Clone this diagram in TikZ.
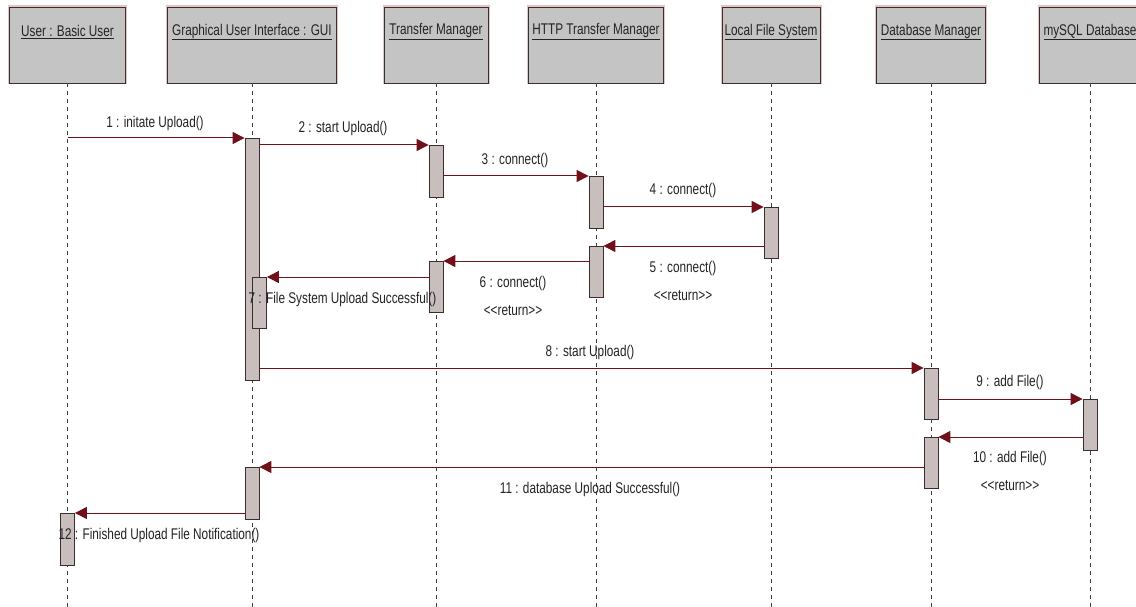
\documentclass[tikz,border=0pt]{standalone}
\usepackage{fontspec}
\setmainfont{Liberation Sans}[Ligatures=NoCommon]
\usetikzlibrary{arrows.meta}
\definecolor{msgc}{RGB}{112,16,24}
\definecolor{boxfill}{RGB}{196,196,196}
\definecolor{boxline}{RGB}{60,45,45}
\definecolor{halo}{RGB}{228,196,196}
\definecolor{actfill}{RGB}{200,190,190}
\definecolor{txt}{RGB}{35,35,35}
\newcommand{\nt}[1]{\scalebox{0.76}[1]{#1}}
\begin{document}
\begin{tikzpicture}[x=1pt,y=-1pt,
  head/.style={draw=boxline, line width=0.9pt, fill=boxfill, preaction={draw=halo,line width=3pt}, minimum height=76pt, inner sep=0pt},
  title/.style={text=txt, font=\fontsize{15.5}{18}\selectfont, inner sep=0pt},
  life/.style={draw=black!75, line width=0.8pt, dash pattern=on 4pt off 4pt},
  act/.style={draw=boxline, line width=0.8pt, fill=actfill, minimum width=14pt, inner sep=0pt, anchor=north},
  msg/.style={draw=msgc, line width=1pt, -{Triangle[length=12pt,width=12pt]}},
  lbl/.style={text=txt, font=\fontsize{15.5}{18}\selectfont, inner sep=0pt}]
\useasboundingbox (0,0) rectangle (1136,607);
\fill[white] (0,0) rectangle (1136,607);

% headers
\node[head, minimum width=116pt] (h1) at (67.5,45) {};
\node[head, minimum width=169pt] (h2) at (252,45) {};
\node[head, minimum width=104pt] (h3) at (436,45) {};
\node[head, minimum width=135pt] (h4) at (596,45) {};
\node[head, minimum width=98pt]  (h5) at (771,45) {};
\node[head, minimum width=109pt] (h6) at (931,45) {};
\node[head, minimum width=102pt] (h7) at (1090,45) {};
\node[title] (t1) at (67.5,32) {\nt{\underline{User : Basic User}}};
\node[title] (t2) at (252,32) {\nt{\underline{Graphical User Interface : GUI}}};
\node[title] (t3) at (436,32) {\nt{\underline{Transfer Manager}}};
\node[title] (t4) at (596,32) {\nt{\underline{HTTP Transfer Manager}}};
\node[title] (t5) at (771,32) {\nt{\underline{Local File System}}};
\node[title] (t6) at (931,32) {\nt{\underline{Database Manager}}};
\node[title] (t7) at (1090,32) {\nt{\underline{mySQL Database}}};

% lifelines
\coordinate (e1) at (67.5,607);
\coordinate (e2) at (252,607);
\coordinate (e3) at (436,607);
\coordinate (e4) at (596,607);
\coordinate (e5) at (771,607);
\coordinate (e6) at (931,607);
\coordinate (e7) at (1090,607);
\foreach \i in {1,...,7} { \draw[life] (h\i.south) -- (e\i); }

% activations
\node[act, minimum height=242pt] (gA) at (252,138) {};
\node[act, minimum height=52pt] (tA) at (436,145) {};
\node[act, minimum height=52pt] (hA) at (596,176) {};
\node[act, minimum height=51pt] (lA) at (771,207) {};
\node[act, minimum height=51pt] (hB) at (596,246) {};
\node[act, minimum height=51pt] (tB) at (436,261) {};
\node[act, minimum height=51pt] (gB) at (259.5,277) {};
\node[act, minimum height=51pt] (dA) at (931,368) {};
\node[act, minimum height=51pt] (mA) at (1090,399) {};
\node[act, minimum height=51pt] (dB) at (931,437) {};
\node[act, minimum height=52pt] (gC) at (252,467) {};
\node[act, minimum height=52pt] (uA) at (67.5,513) {};

% messages
\draw[msg] (h1.south |- gA.north) -- (gA.north west);
\draw[msg] (gA.east |- tA.north) -- (tA.north west);
\draw[msg] (tA.east |- hA.north) -- (hA.north west);
\draw[msg] (hA.east |- lA.north) -- (lA.north west);
\draw[msg] (lA.west |- hB.north) -- (hB.north east);
\draw[msg] (hB.west |- tB.north) -- (tB.north east);
\draw[msg] (tB.west |- gB.north) -- (gB.north east);
\draw[msg] (gA.east |- dA.north) -- (dA.north west);
\draw[msg] (dA.east |- mA.north) -- (mA.north west);
\draw[msg] (mA.west |- dB.north) -- (dB.north east);
\draw[msg] (dB.west |- gC.north) -- (gC.north east);
\draw[msg] (gC.west |- uA.north) -- (uA.north east);

% labels
\node[lbl] (l1) at (155,123) {\nt{1 : initate Upload()}};
\node[lbl] (l2) at (343,128) {\nt{2 : start Upload()}};
\node[lbl] (l3) at (515,160) {\nt{3 : connect()}};
\node[lbl] (l4) at (683,190) {\nt{4 : connect()}};
\node[lbl] (l5) at (683,268) {\nt{5 : connect()}};
\node[lbl] (r5) at (683,296) {\nt{<{}<return>{}>}};
\node[lbl] (l6) at (513,283) {\nt{6 : connect()}};
\node[lbl] (r6) at (513,311) {\nt{<{}<return>{}>}};
\node[lbl] (l7) at (342.5,299) {\nt{7 : File System Upload Successful()}};
\node[lbl] (l8) at (590,352) {\nt{8 : start Upload()}};
\node[lbl] (l9) at (1010,382) {\nt{9 : add File()}};
\node[lbl] (l10) at (1010,458) {\nt{10 : add File()}};
\node[lbl] (r10) at (1010,486) {\nt{<{}<return>{}>}};
\node[lbl] (l11) at (590,489) {\nt{11 : database Upload Successful()}};
\node[lbl] (l12) at (159,535) {\nt{12 : Finished Upload File Notification()}};
\end{tikzpicture}
\end{document}
